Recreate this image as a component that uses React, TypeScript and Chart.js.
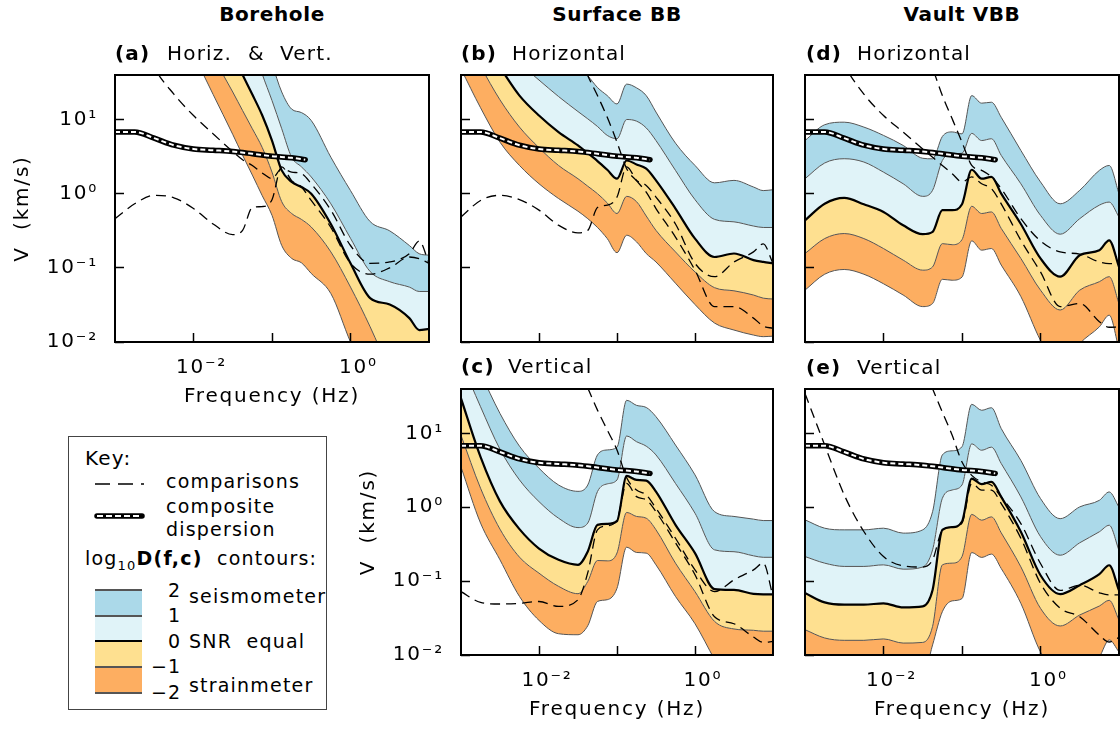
import React, { useEffect, useRef } from 'react';
import { Chart, registerables } from 'chart.js';

Chart.register(...registerables);

const FONT = '"DejaVu Sans", sans-serif';
Chart.defaults.font.family = FONT;

// ---------- data ----------
const FREQ = [0.001, 0.00178, 0.00316, 0.00562, 0.01, 0.0178, 0.0316, 0.0422, 0.0562, 0.075, 0.1, 0.133, 0.178, 0.237, 0.316, 0.562, 1, 1.78, 3.16, 5.62, 7.5, 10];

const X_TICKS = [0.01, 0.1, 1];
const X_TICK_TEXT = ['10⁻²', '', '10⁰'];
const Y_TICKS = [0.01, 0.1, 1, 10];
const Y_TICK_TEXT = ['10⁻²', '10⁻¹', '10⁰', '10¹'];
const X_MIN = 0.001;
const X_MAX = 10;
const Y_MIN = 0.01;
const Y_MAX = 39.8;

const CONTOUR_LEVELS = ['-2', '-1', '0', '1', '2'];
const BAND_COLORS = ['#fdae61', '#fee090', '#e0f3f8', '#abd9e9'];

// composite dispersion curve
const COMP_FREQ = [0.001, 0.00178, 0.00316, 0.00562, 0.01, 0.0178, 0.0316, 0.0562, 0.1, 0.178, 0.265];
const COMP_V = [6.8, 6.8, 5.6, 4.5, 4.0, 3.85, 3.7, 3.45, 3.2, 3.05, 2.87];

// (a) Borehole, horiz & vert
const A_M2 = [1000, 1000, 1000, 260, 76, 21.7, 6.3, 3.3, 1.78, 0.94, 0.51, 0.2, 0.134, 0.117, 0.084, 0.045, 0.01, 0.0028, 0.001, 0.001, 0.001, 0.001];
const A_M1 = [1000, 1000, 1000, 1000, 220, 70, 23.5, 13.2, 7.5, 4.2, 1.95, 0.78, 0.54, 0.45, 0.355, 0.164, 0.055, 0.016, 0.004, 0.001, 0.001, 0.001];
const A_Z = [1000, 1000, 1000, 1000, 1000, 260, 76, 40, 21.7, 11.4, 5.2, 2.06, 1.44, 1.23, 1.0, 0.39, 0.115, 0.039, 0.032, 0.021, 0.0145, 0.015];
const A_P1 = [1000, 1000, 1000, 1000, 1000, 1000, 1000, 200, 105, 41, 18, 7.5, 3.1, 2.3, 1.68, 0.73, 0.25, 0.089, 0.065, 0.055, 0.048, 0.048];
const A_P2 = [1000, 1000, 1000, 1000, 1000, 1000, 1000, 1000, 300, 130, 56, 23.5, 13.8, 12.4, 9.7, 3.1, 1.1, 0.42, 0.315, 0.2, 0.155, 0.148];
const A_C1 = [1000, 200, 50, 22, 11.3, 6.4, 3.7, 2.86, 2.4, 1.9, 1.6, 2.17, 1.95, 1.86, 1.36, 0.6, 0.2, 0.115, 0.12, 0.155, 0.23, 0.115];
const A_C2 = [0.46, 0.73, 0.95, 0.88, 0.63, 0.39, 0.28, 0.32, 0.65, 0.67, 0.83, 2.3, 1.5, 1.23, 0.81, 0.35, 0.115, 0.082, 0.1, 0.14, 0.133, 0.115];

// (b) Surface BB, horizontal
const B_M2 = [48, 14.4, 4.95, 2.4, 1.36, 0.86, 0.58, 0.46, 0.35, 0.248, 0.16, 0.275, 0.224, 0.156, 0.12, 0.062, 0.032, 0.018, 0.0145, 0.0124, 0.0118, 0.012];
const B_M1 = [150, 52, 18.4, 7.9, 4.16, 2.4, 1.59, 1.26, 1.0, 0.75, 0.54, 0.92, 0.78, 0.5, 0.32, 0.164, 0.088, 0.054, 0.049, 0.043, 0.039, 0.038];
const B_Z = [240, 110, 50, 21, 11.3, 6.76, 4.47, 3.52, 2.75, 2.1, 1.59, 2.8, 2.48, 2.17, 1.51, 0.63, 0.248, 0.14, 0.156, 0.127, 0.12, 0.115];
const B_P1 = [300, 160, 96, 57, 34, 20.4, 12.8, 10.2, 8.05, 6.1, 5.5, 10, 9.5, 7.7, 5.2, 2.06, 0.83, 0.45, 0.417, 0.366, 0.35, 0.35];
const B_P2 = [1000, 1000, 1000, 1000, 200, 105, 54, 39, 27, 21, 16.2, 30, 26.7, 21, 12.6, 4.8, 2.4, 1.4, 1.51, 1.23, 1.1, 1.13];
const B_C1 = [1000, 1000, 1000, 1000, 1000, 400, 80, 39, 21, 10.7, 4.95, 2.17, 1.51, 1.29, 0.9, 0.39, 0.115, 0.076, 0.12, 0.164, 0.21, 0.115];
const B_C2 = [0.485, 0.81, 0.95, 0.83, 0.6, 0.375, 0.296, 0.32, 0.65, 0.7, 0.9, 2.3, 1.5, 1.05, 0.63, 0.26, 0.093, 0.03, 0.03, 0.021, 0.0164, 0.0153];

// (c) Surface BB, vertical
const C_M2 = [3.5, 0.61, 0.194, 0.062, 0.0294, 0.0194, 0.0188, 0.0249, 0.053, 0.056, 0.08, 0.288, 0.244, 0.239, 0.166, 0.062, 0.0265, 0.0087, 0.003, 0.002, 0.002, 0.002];
const C_M1 = [9.4, 1.81, 0.505, 0.211, 0.128, 0.085, 0.0675, 0.099, 0.19, 0.188, 0.24, 0.85, 0.75, 0.71, 0.495, 0.175, 0.072, 0.0285, 0.0225, 0.0216, 0.021, 0.021];
const C_Z = [29.7, 4.8, 1.2, 0.505, 0.276, 0.194, 0.166, 0.252, 0.577, 0.596, 0.65, 2.65, 2.34, 2.29, 1.63, 0.577, 0.239, 0.078, 0.076, 0.067, 0.066, 0.066];
const C_P1 = [95, 22.9, 6.1, 2.34, 1.19, 0.71, 0.53, 0.61, 1.63, 2.07, 2.34, 9.2, 7.7, 6.7, 5.1, 2.1, 0.83, 0.265, 0.25, 0.22, 0.21, 0.21];
const C_P2 = [200, 64, 18.6, 6.7, 3.37, 2.0, 1.64, 2.0, 5.1, 5.96, 6.5, 28, 23.9, 22.4, 16.8, 6.95, 2.74, 0.87, 0.75, 0.69, 0.66, 0.66];
const C_C1 = [1000, 1000, 1000, 1000, 1000, 310, 80, 41, 20.6, 11.1, 5.96, 2.5, 1.71, 1.47, 0.97, 0.38, 0.142, 0.072, 0.104, 0.142, 0.175, 0.062];
const C_C2 = [0.072, 0.0515, 0.049, 0.05, 0.053, 0.0455, 0.056, 0.13, 0.494, 0.56, 0.67, 2.1, 1.39, 1.26, 0.87, 0.33, 0.122, 0.033, 0.0265, 0.0175, 0.0148, 0.0153];

// (d) Vault VBB, horizontal
const D_M2 = [0.05, 0.082, 0.095, 0.082, 0.061, 0.043, 0.03, 0.033, 0.07, 0.068, 0.075, 0.231, 0.173, 0.182, 0.109, 0.041, 0.0105, 0.004, 0.0095, 0.016, 0.023, 0.008];
const D_M1 = [0.156, 0.248, 0.29, 0.248, 0.182, 0.127, 0.093, 0.103, 0.212, 0.205, 0.24, 0.676, 0.54, 0.567, 0.34, 0.134, 0.05, 0.027, 0.05, 0.065, 0.076, 0.033];
const D_Z = [0.437, 0.73, 0.875, 0.72, 0.567, 0.375, 0.284, 0.305, 0.6, 0.6, 0.72, 2.1, 1.59, 1.68, 1.0, 0.39, 0.134, 0.076, 0.148, 0.173, 0.235, 0.103];
const D_P1 = [1.59, 2.59, 2.96, 2.67, 1.95, 1.36, 0.92, 1.11, 2.8, 3.45, 3.5, 6.5, 5.2, 5.5, 3.28, 1.36, 0.51, 0.284, 0.46, 0.7, 0.77, 0.485];
const D_P2 = [5.2, 8.5, 9.2, 7.9, 6.1, 4.47, 3.0, 2.95, 5.9, 6.8, 6.4, 21, 16.6, 17.1, 10.7, 3.83, 1.44, 0.73, 1.11, 2.06, 2.4, 1.0];
const D_C1 = [1000, 200, 54, 22, 11.3, 6.76, 4.0, 3.1, 2.4, 1.86, 1.44, 1.68, 1.36, 1.17, 0.73, 0.235, 0.088, 0.03, 0.033, 0.0188, 0.0158, 0.016];
const D_C2 = [1000, 1000, 1000, 1000, 1000, 400, 83, 48, 21, 10.2, 4.95, 2.4, 2.06, 1.68, 1.17, 0.46, 0.23, 0.164, 0.153, 0.12, 0.114, 0.114];

// (e) Vault VBB, vertical
const E_M2 = [0.0075, 0.0058, 0.0054, 0.0054, 0.0056, 0.005, 0.005, 0.0137, 0.0386, 0.054, 0.058, 0.244, 0.209, 0.232, 0.148, 0.05, 0.011, 0.005, 0.006, 0.0095, 0.016, 0.011];
const E_M1 = [0.022, 0.017, 0.0158, 0.0158, 0.0165, 0.0145, 0.0148, 0.0244, 0.166, 0.175, 0.215, 0.8, 0.667, 0.74, 0.45, 0.156, 0.0428, 0.0247, 0.0348, 0.046, 0.055, 0.0297];
const E_Z = [0.069, 0.0515, 0.048, 0.048, 0.05, 0.044, 0.0455, 0.076, 0.494, 0.537, 0.64, 2.44, 2.05, 2.2, 1.38, 0.465, 0.12, 0.0667, 0.088, 0.124, 0.164, 0.075];
const E_P1 = [0.215, 0.175, 0.158, 0.158, 0.166, 0.145, 0.155, 0.265, 1.32, 1.71, 2.0, 7.2, 5.9, 6.5, 3.9, 1.38, 0.4, 0.224, 0.33, 0.465, 0.57, 0.26];
const E_P2 = [0.675, 0.52, 0.494, 0.494, 0.52, 0.446, 0.494, 0.87, 5.1, 5.8, 6.6, 24.7, 20.5, 22.2, 11.6, 4.3, 1.31, 0.7, 1.01, 1.24, 1.61, 1.0];
const E_C1 = [34.7, 6.95, 1.47, 0.469, 0.215, 0.161, 0.155, 0.194, 0.49, 0.54, 0.61, 2.1, 1.7, 1.7, 1.12, 0.38, 0.093, 0.043, 0.033, 0.0186, 0.015, 0.0173];
const E_C2 = [1000, 1000, 1000, 1000, 1000, 400, 87, 40, 19.4, 9.4, 4.1, 2.7, 2.2, 1.98, 1.38, 0.6, 0.173, 0.075, 0.088, 0.0695, 0.065, 0.065];

// ---------- layout (positions only) ----------
const PANELS = [
  { key: 'a', left: 0, top: 60, width: 440, height: 358, axisW: 115, axisH: 76, padTop: 15, padRight: 11, yLabels: true, xLabels: true, yTitlePad: 11,
    contours: [A_M2, A_M1, A_Z, A_P1, A_P2], comps: [A_C1, A_C2] },
  { key: 'b', left: 445, top: 60, width: 340, height: 300, axisW: 16, axisH: 18, padTop: 15, padRight: 12, yLabels: false, xLabels: false, yTitlePad: 0,
    contours: [B_M2, B_M1, B_Z, B_P1, B_P2], comps: [B_C1, B_C2] },
  { key: 'd', left: 790, top: 60, width: 330, height: 300, axisW: 15, axisH: 18, padTop: 15, padRight: 1, yLabels: false, xLabels: false, yTitlePad: 0,
    contours: [D_M2, D_M1, D_Z, D_P1, D_P2], comps: [D_C1, D_C2] },
  { key: 'c', left: 355, top: 374, width: 430, height: 357, axisW: 106, axisH: 76, padTop: 15, padRight: 12, yLabels: true, xLabels: true, yTitlePad: 2,
    contours: [C_M2, C_M1, C_Z, C_P1, C_P2], comps: [C_C1, C_C2] },
  { key: 'e', left: 790, top: 374, width: 330, height: 357, axisW: 15, axisH: 76, padTop: 15, padRight: 1, yLabels: false, xLabels: true, yTitlePad: 0,
    contours: [E_M2, E_M1, E_Z, E_P1, E_P2], comps: [E_C1, E_C2] },
];

const toPts = (xs: number[], ys: number[]) => xs.map((x, i) => ({ x, y: ys[i] }));

const framePlugin = {
  id: 'frame',
  beforeDraw(chart: any) {
    chart.ctx.letterSpacing = '1.8px';
  },
  afterDatasetsDraw(chart: any) {
    const { ctx, chartArea: a } = chart;
    ctx.save();
    ctx.strokeStyle = '#000';
    ctx.lineWidth = 2;
    ctx.strokeRect(a.left, a.top, a.right - a.left, a.bottom - a.top);
    ctx.restore();
  },
};

function buildConfig(def: any) {
  const contourDs = def.contours.map((ys: number[], i: number) => ({
    label: CONTOUR_LEVELS[i],
    data: toPts(FREQ, ys),
    borderColor: i === 2 ? '#000' : '#555',
    borderWidth: i === 2 ? 2.2 : 1,
    backgroundColor: i === 0 ? 'rgba(0,0,0,0)' : BAND_COLORS[i - 1],
    fill: i === 0 ? false : '-1',
    pointRadius: 0,
    cubicInterpolationMode: 'monotone',
    order: 10,
  }));
  const compDs = def.comps.map((ys: number[], i: number) => ({
    label: 'comparison ' + (i + 1),
    data: toPts(FREQ, ys),
    borderColor: '#000',
    borderWidth: 1.3,
    borderDash: [10, 6],
    fill: false,
    pointRadius: 0,
    cubicInterpolationMode: 'monotone',
    order: 5,
  }));
  const compositeDs = [
    { label: 'composite', data: toPts(COMP_FREQ, COMP_V), borderColor: '#000', borderWidth: 5.5, borderCapStyle: 'round',
      fill: false, pointRadius: 0, cubicInterpolationMode: 'monotone', order: 2 },
    { label: 'composite inner', data: toPts(COMP_FREQ, COMP_V), borderColor: '#fff', borderWidth: 2, borderDash: [5, 3],
      fill: false, pointRadius: 0, cubicInterpolationMode: 'monotone', order: 1 },
  ];
  const tickFont = { size: 20, family: FONT };
  return {
    type: 'line',
    data: { datasets: [...contourDs, ...compDs, ...compositeDs] },
    plugins: [framePlugin],
    options: {
      responsive: false,
      maintainAspectRatio: false,
      animation: false,
      devicePixelRatio: 1,
      events: [],
      layout: { padding: { left: 0, top: def.padTop, right: def.padRight, bottom: 0 } },
      elements: { line: { capBezierPoints: false }, point: { radius: 0 } },
      plugins: {
        legend: { display: false },
        tooltip: { enabled: false },
        filler: { drawTime: 'beforeDatasetsDraw' },
      },
      scales: {
        x: {
          type: 'logarithmic',
          position: 'bottom',
          min: X_MIN,
          max: X_MAX,
          afterBuildTicks: (s: any) => { s.ticks = X_TICKS.map((v) => ({ value: v })); },
          afterFit: (s: any) => { s.height = def.axisH; s.paddingLeft = 0; s.paddingRight = 0; s.paddingTop = 0; s.paddingBottom = 0; },
          ticks: {
            callback: (_v: any, i: number) => (def.xLabels ? X_TICK_TEXT[i] : ''),
            color: '#000', font: tickFont, padding: 23, labelOffset: 8, maxRotation: 0, minRotation: 0, autoSkip: false, z: 1,
          },
          grid: { drawOnChartArea: false, drawTicks: true, tickLength: -9, tickColor: '#000', tickWidth: 1.5, z: 1 },
          border: { display: false },
          title: { display: def.xLabels, text: 'Frequency (Hz)', color: '#000', font: tickFont, padding: { top: 0, bottom: 9 } },
        },
        y: {
          type: 'logarithmic',
          position: 'left',
          min: Y_MIN,
          max: Y_MAX,
          afterBuildTicks: (s: any) => { s.ticks = Y_TICKS.map((v) => ({ value: v })); },
          afterFit: (s: any) => { s.width = def.axisW; s.paddingLeft = 0; s.paddingRight = 0; s.paddingTop = 0; s.paddingBottom = 0; },
          ticks: {
            callback: (_v: any, i: number) => (def.yLabels ? Y_TICK_TEXT[i] : ''),
            color: '#000', font: tickFont, padding: 26, autoSkip: false, z: 1,
          },
          grid: { drawOnChartArea: false, drawTicks: true, tickLength: -9, tickColor: '#000', tickWidth: 1.5, z: 1 },
          border: { display: false },
          title: { display: def.yLabels, text: 'V  (km/s)', color: '#000', font: tickFont, padding: { top: def.yTitlePad, bottom: 0 } },
        },
      },
    },
  };
}

function Panel({ def }: { def: any }) {
  const ref = useRef<HTMLCanvasElement | null>(null);
  useEffect(() => {
    if (!ref.current) return;
    const chart = new Chart(ref.current, buildConfig(def) as any);
    return () => chart.destroy();
  }, [def]);
  return (
    <canvas
      ref={ref}
      width={def.width}
      height={def.height}
      style={{ position: 'absolute', left: def.left, top: def.top, width: def.width, height: def.height }}
    />
  );
}

function Txt({ x, y, size = 20, bold = false, center = false, spacing = 1.2, children }: any) {
  const style: any = {
    position: 'absolute',
    left: x,
    top: y - 0.846 * size,
    fontFamily: FONT,
    fontSize: size,
    lineHeight: `${size}px`,
    fontWeight: bold ? 'bold' : 'normal',
    whiteSpace: 'pre',
    letterSpacing: spacing,
    color: '#000',
  };
  if (center) style.transform = 'translateX(-50%)';
  return <div style={style}>{children}</div>;
}

function Legend() {
  const sw = (top: number, h: number, bg: string) => (
    <div style={{ position: 'absolute', left: 95, top, width: 47, height: h, background: bg }} />
  );
  const ln = (top: number, h: number, c: string) => (
    <div style={{ position: 'absolute', left: 95, top: top - h / 2, width: 47, height: h, background: c }} />
  );
  return (
    <>
      <div style={{ position: 'absolute', left: 68, top: 436, width: 259, height: 274, border: '1px solid #444', boxSizing: 'border-box' }} />
      <Txt x={85} y={465}>Key:</Txt>
      <svg style={{ position: 'absolute', left: 90, top: 470 }} width={60} height={60}>
        <line x1={5} y1={14} x2={54} y2={14} stroke="#000" strokeWidth={1.5} strokeDasharray="15 8" />
        <line x1={7} y1={46} x2={52} y2={46} stroke="#000" strokeWidth={5.5} strokeLinecap="round" />
        <line x1={7} y1={46} x2={52} y2={46} stroke="#fff" strokeWidth={2} strokeDasharray="6 3" />
      </svg>
      <Txt x={166} y={488} size={19}>comparisons</Txt>
      <Txt x={166} y={513} size={19}>composite</Txt>
      <Txt x={166} y={536} size={19}>dispersion</Txt>
      <Txt x={85} y={565} size={19}>
        log<span style={{ fontSize: 13, position: 'relative', top: 5 }}>10</span><b>D(f,c)</b>  contours:
      </Txt>
      {sw(590, 26, BAND_COLORS[3])}
      {sw(616, 25, BAND_COLORS[2])}
      {sw(641, 26, BAND_COLORS[1])}
      {sw(667, 26, BAND_COLORS[0])}
      {ln(590, 1.2, '#555')}
      {ln(616, 1.2, '#555')}
      {ln(641, 2.2, '#000')}
      {ln(667, 1.2, '#555')}
      {ln(693, 1.2, '#555')}
      <Txt x={168} y={597} size={19}>2</Txt>
      <Txt x={189} y={603} size={19}>seismometer</Txt>
      <Txt x={168} y={622} size={19}>1</Txt>
      <Txt x={168} y={648} size={19}>0</Txt>
      <Txt x={189} y={648} size={19}>SNR  equal</Txt>
      <Txt x={151} y={673} size={19}>−1</Txt>
      <Txt x={189} y={692} size={19}>strainmeter</Txt>
      <Txt x={151} y={699} size={19}>−2</Txt>
    </>
  );
}

export default function App() {
  return (
    <div style={{ position: 'absolute', left: 0, top: 0, width: 1120, height: 730, overflow: 'hidden', background: '#fff' }}>
      {PANELS.map((p) => (
        <Panel key={p.key} def={p} />
      ))}
      <Txt x={272} y={21} bold center spacing={0.6}>Borehole</Txt>
      <Txt x={617} y={21} bold center spacing={0.6}>Surface BB</Txt>
      <Txt x={962} y={21} bold center spacing={0.6}>Vault VBB</Txt>

      <Txt x={115} y={60} bold>(a)</Txt>
      <Txt x={167} y={60}>Horiz.</Txt>
      <Txt x={248} y={60}>&amp;</Txt>
      <Txt x={280} y={60}>Vert.</Txt>

      <Txt x={461} y={60} bold>(b)</Txt>
      <Txt x={512} y={60}>Horizontal</Txt>
      <Txt x={806} y={60} bold>(d)</Txt>
      <Txt x={857} y={60}>Horizontal</Txt>
      <Txt x={461} y={373} bold>(c)</Txt>
      <Txt x={508} y={373}>Vertical</Txt>
      <Txt x={806} y={374} bold>(e)</Txt>
      <Txt x={857} y={374}>Vertical</Txt>

      <Legend />
    </div>
  );
}
